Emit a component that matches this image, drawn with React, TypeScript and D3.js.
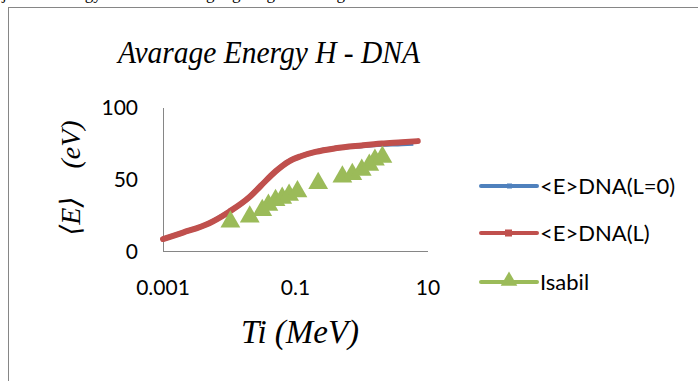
import * as d3 from "d3";

// <E>DNA(L) curve (Ti in MeV, energy in eV)
const redT = [0.001, 0.002, 0.005, 0.01, 0.02, 0.03, 0.05, 0.08, 0.12, 0.2, 0.4, 1, 2, 4, 7];
const redE = [9, 13.5, 20, 28, 38, 46, 56, 63, 66.5, 69.5, 72, 74, 75.3, 76.2, 77];

// <E>DNA(L=0) curve, almost hidden under the red one
const blueT = [0.001, 0.002, 0.005, 0.01, 0.02, 0.03, 0.05, 0.08, 0.12, 0.2, 0.4, 1, 2, 4, 6];
const blueE = [9, 13.5, 20, 28, 38, 46, 56, 63, 66.5, 69.5, 72, 73.8, 74.8, 75.2, 75.6];

// Isabil points
const isaT = [0.0104, 0.0204, 0.0315, 0.039, 0.05, 0.063, 0.08, 0.107, 0.22, 0.51, 0.72, 1.0, 1.3, 1.58, 2.05];
const isaE = [21, 24.5, 29, 32.6, 36, 37.5, 39.6, 42, 47.7, 52.3, 54, 57, 60.4, 64, 66];

const xTicks = [0.001, 0.1, 10];
const xTickLabels = ["0.001", "0.1", "10"];
const yTicks = [0, 50, 100];

const legendNames = ["<E>DNA(L=0)", "<E>DNA(L)", "Isabil"];
const colors = ["#4F81BD", "#C0504D", "#9BBB59"];

export default function App() {
  const width = 698;
  const height = 381;
  const x = d3.scaleLog().domain([0.001, 10]).range([163, 428]);
  const y = d3.scaleLinear().domain([0, 100]).range([252, 108]);

  const line = d3
    .line<[number, number]>()
    .x((d) => x(d[0]))
    .y((d) => y(d[1]))
    .curve(d3.curveMonotoneX);

  const redPts = redT.map((t, i) => [t, redE[i]] as [number, number]);
  const bluePts = blueT.map((t, i) => [t, blueE[i]] as [number, number]);
  const tri = d3.symbol().type(d3.symbolTriangle).size(170)() as string;
  const smallTri = d3.symbol().type(d3.symbolTriangle).size(120)() as string;

  const tickFont = "Lato, 'Liberation Sans', sans-serif";
  const scriptFont = "'Liberation Serif', 'DejaVu Serif', serif";

  const legendY = [186, 233, 282];

  return (
    <svg
      width={width}
      height={height}
      style={{ position: "absolute", left: 0, top: 0, background: "#fff" }}
    >
      {/* clipped paragraph text from the page above */}
      <text x={2} y={-1} fontFamily={scriptFont} fontSize={17} fill="#000">
        just the energy in the scattering region given in figure
      </text>

      {/* chart frame */}
      <rect x={8.5} y={7.5} width={width + 10} height={height + 10} fill="none" stroke="#868686" strokeWidth={1} />

      {/* title */}
      <text
        x={269}
        y={63}
        textAnchor="middle"
        fontFamily={scriptFont}
        fontStyle="italic"
        fontSize={32}
        textLength={302}
        lengthAdjust="spacingAndGlyphs"
        fill="#000"
      >
        Avarage Energy H - DNA
      </text>

      {/* axes */}
      <line x1={163.5} x2={163.5} y1={108} y2={252} stroke="#868686" strokeWidth={1} />
      <line x1={163} x2={428} y1={251.5} y2={251.5} stroke="#868686" strokeWidth={1} />

      {yTicks.map((t) => (
        <text
          key={t}
          x={138}
          y={y(t)}
          dy="0.35em"
          textAnchor="end"
          fontFamily={tickFont}
          fontSize={21}
          fill="#000"
        >
          {t}
        </text>
      ))}
      {xTicks.map((t, i) => (
        <text
          key={t}
          x={x(t)}
          y={295}
          textAnchor="middle"
          fontFamily={tickFont}
          fontSize={21}
          fill="#000"
        >
          {xTickLabels[i]}
        </text>
      ))}

      {/* axis titles */}
      <text
        x={300}
        y={343}
        textAnchor="middle"
        fontFamily={scriptFont}
        fontStyle="italic"
        fontSize={33}
        fill="#000"
      >
        Ti (MeV)
      </text>
      <text
        transform="translate(80,178) rotate(-90)"
        textAnchor="middle"
        fontFamily={scriptFont}
        fontStyle="italic"
        fontSize={28}
        fill="#000"
        style={{ whiteSpace: "pre" }}
      >
        {"\u27E8E\u27E9    (eV)"}
      </text>

      {/* series */}
      <path d={line(bluePts) as string} fill="none" stroke={colors[0]} strokeWidth={5} />
      <path d={line(redPts) as string} fill="none" stroke={colors[1]} strokeWidth={6} strokeLinecap="round" />
      {isaT.map((t, i) => (
        <path
          key={i}
          d={tri}
          transform={`translate(${x(t)},${y(isaE[i])})`}
          fill={colors[2]}
        />
      ))}

      {/* legend */}
      {legendNames.map((name, i) => (
        <g key={name}>
          <line
            x1={481}
            x2={537}
            y1={legendY[i]}
            y2={legendY[i]}
            stroke={colors[i]}
            strokeWidth={4}
            strokeLinecap="round"
          />
          {i === 1 && <rect x={505} y={legendY[i] - 3.5} width={7} height={7} fill={colors[1]} />}
          {i === 0 && <rect x={507} y={legendY[i] - 2.5} width={5} height={5} fill={colors[0]} />}
          {i === 2 && (
            <path d={smallTri} transform={`translate(509,${legendY[i] - 1})`} fill={colors[2]} />
          )}
          <text
            x={540}
            y={legendY[i]}
            dy="0.35em"
            fontFamily={tickFont}
            fontSize={22}
            fill="#000"
          >
            {name}
          </text>
        </g>
      ))}
    </svg>
  );
}
